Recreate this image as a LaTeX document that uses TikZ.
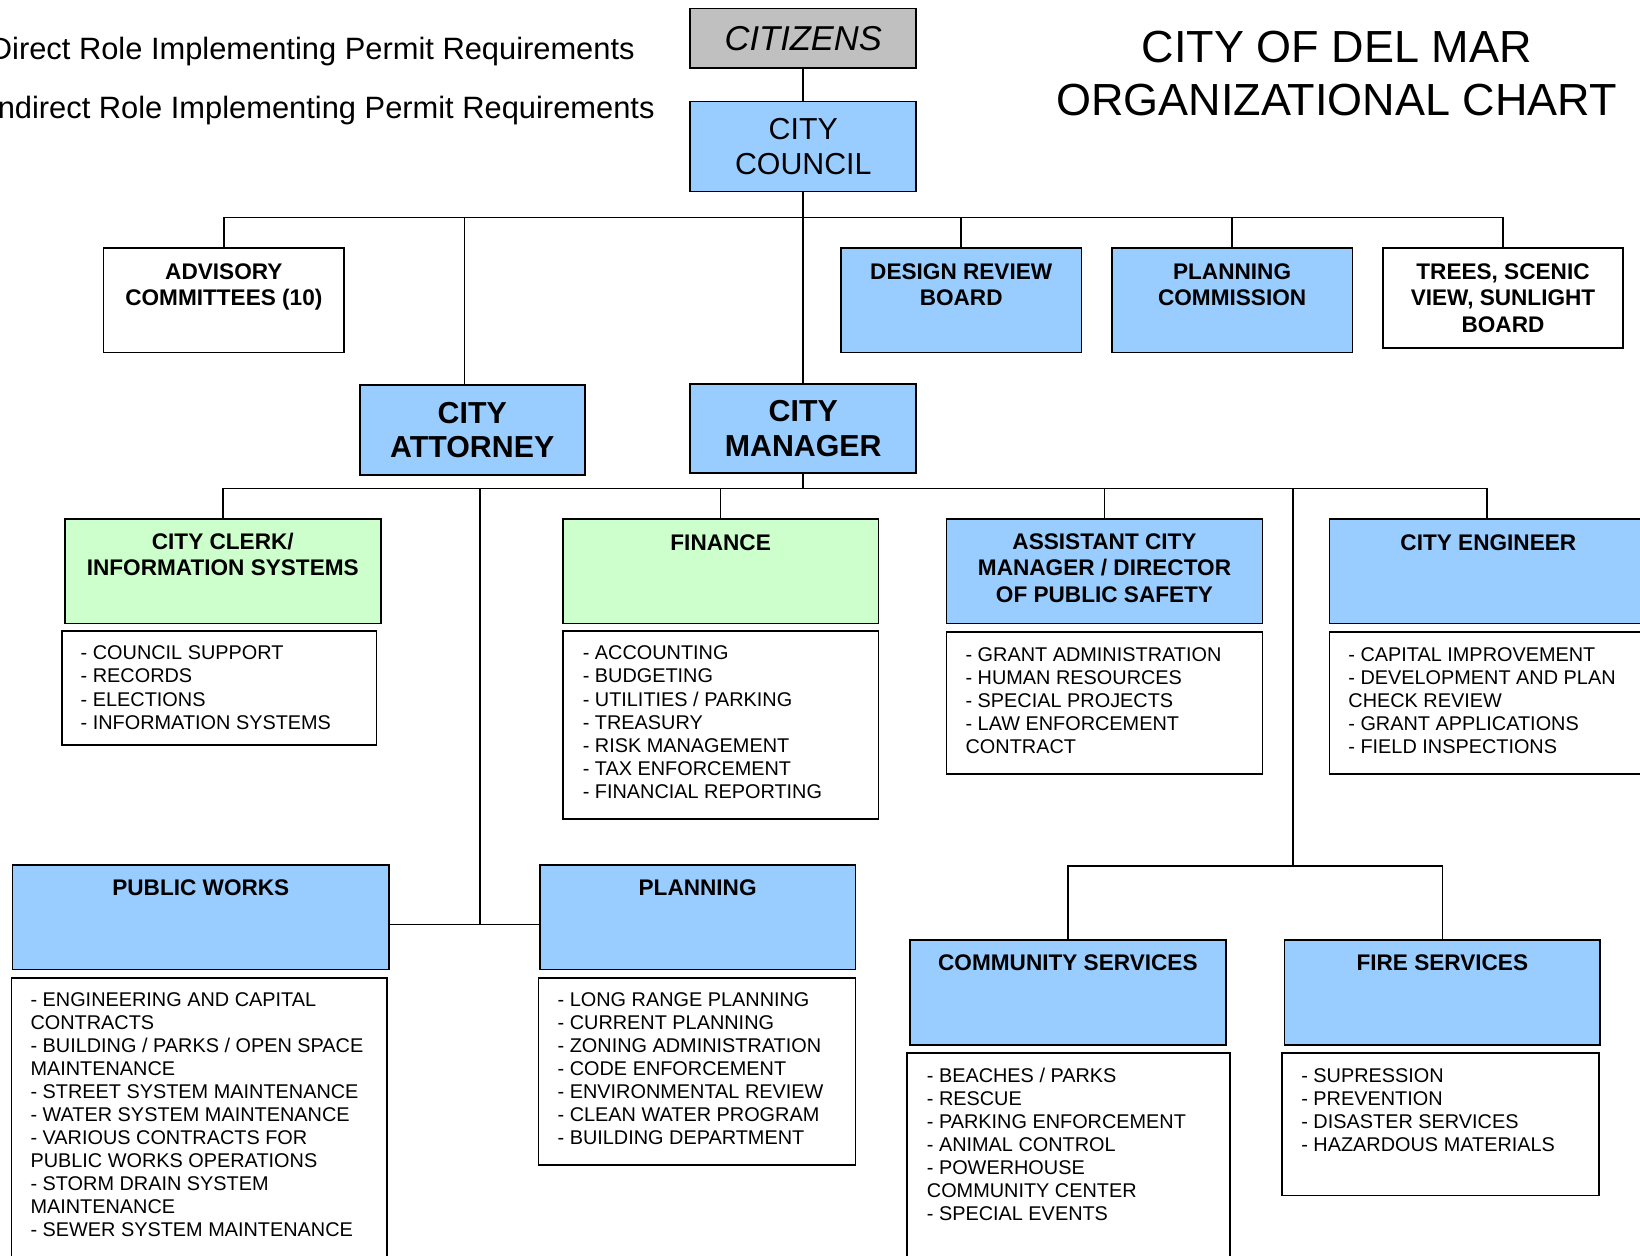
\documentclass[tikz,border=0pt]{standalone}
\usepackage{fontspec}
\setmainfont{Liberation Sans}

\definecolor{deptblue}{HTML}{99CCFF}
\definecolor{deptgreen}{HTML}{CCFFCC}
\definecolor{citgray}{HTML}{C0C0C0}

\tikzset{
  unit/.style={draw=black, line width=1.6pt, inner sep=0pt},
  bluebox/.style={unit, fill=deptblue},
  greenbox/.style={unit, fill=deptgreen},
  whitebox/.style={unit, fill=white},
  hd/.style={font=\bfseries\fontsize{21.6}{25.5}\selectfont, align=center, anchor=base, inner sep=0pt},
  items/.style={font=\fontsize{19}{22}\selectfont, align=left, anchor=base west, inner sep=0pt},
  link/.style={line width=1.6pt}
}

\begin{document}
\begin{tikzpicture}[x=1pt, y=-1pt]
\useasboundingbox (0,0) rectangle (1568,1200);
\clip (0,0) rectangle (1568,1200);

% legend and title (nodes sit on the baseline of their last line)
\node[font=\fontsize{29.5}{33}\selectfont, anchor=base east, inner sep=0pt] (direct) at (607,57) {Direct Role Implementing Permit Requirements};
\node[font=\fontsize{29.5}{33}\selectfont, anchor=base east, inner sep=0pt] (indirect) at (626,113) {Indirect Role Implementing Permit Requirements};
\node[font=\fontsize{43}{50}\selectfont, align=center, anchor=base, inner sep=0pt] (title) at (1278,110) {CITY OF DEL MAR\\ORGANIZATIONAL CHART};

% top of the chart
\node[unit, fill=citgray, minimum width=216pt, minimum height=57pt, font=\itshape\fontsize{33}{36}\selectfont] (citizens) at (768,36.5) {CITIZENS};
\node[bluebox, minimum width=216pt, minimum height=86pt, align=center, font=\fontsize{29}{33}\selectfont] (council) at (768,140) {CITY\\COUNCIL};

\node[whitebox, minimum width=230pt, minimum height=100pt] (advisory) at (214,287) {};
\node[hd] at (214,292.5) {ADVISORY\\COMMITTEES (10)};
\node[bluebox, minimum width=230pt, minimum height=100pt] (design) at (919,287) {};
\node[hd] at (919,292.5) {DESIGN REVIEW\\BOARD};
\node[bluebox, minimum width=230pt, minimum height=100pt] (plancomm) at (1178,287) {};
\node[hd] at (1178,292.5) {PLANNING\\COMMISSION};
\node[whitebox, minimum width=230pt, minimum height=96pt] (trees) at (1437,285) {};
\node[hd] at (1437,318) {TREES, SCENIC\\VIEW, SUNLIGHT\\BOARD};

\node[bluebox, minimum width=215pt, minimum height=86pt, align=center, font=\bfseries\fontsize{29}{33}\selectfont] (attorney) at (451.5,411) {CITY\\ATTORNEY};
\node[bluebox, minimum width=216pt, minimum height=85pt, align=center, font=\bfseries\fontsize{29}{33}\selectfont] (manager) at (768,409.5) {CITY\\MANAGER};

% departments
\node[greenbox, minimum width=302pt, minimum height=100pt] (clerk) at (213,546) {};
\node[hd] at (213,550.5) {CITY CLERK/\\INFORMATION SYSTEMS};
\node[whitebox, minimum width=301pt, minimum height=109pt] (clerklist) at (209.5,657.5) {};
\node[items] at (77,697) {- COUNCIL SUPPORT\\- RECORDS\\- ELECTIONS\\- INFORMATION SYSTEMS};

\node[greenbox, minimum width=302pt, minimum height=100pt] (finance) at (689,546) {};
\node[hd] at (689,526) {FINANCE};
\node[whitebox, minimum width=302pt, minimum height=180pt] (financelist) at (689,693) {};
\node[items] at (557,763) {- ACCOUNTING\\- BUDGETING\\- UTILITIES / PARKING\\- TREASURY\\- RISK MANAGEMENT\\- TAX ENFORCEMENT\\- FINANCIAL REPORTING};

\node[bluebox, minimum width=302pt, minimum height=100pt] (asst) at (1056,546) {};
\node[hd] at (1056,576) {ASSISTANT CITY\\MANAGER / DIRECTOR\\OF PUBLIC SAFETY};
\node[whitebox, minimum width=302pt, minimum height=136pt] (asstlist) at (1056,672) {};
\node[items] at (923,720) {- GRANT ADMINISTRATION\\- HUMAN RESOURCES\\- SPECIAL PROJECTS\\- LAW ENFORCEMENT\\CONTRACT};

\node[bluebox, minimum width=302pt, minimum height=100pt] (engineer) at (1422,546) {};
\node[hd] at (1423,526) {CITY ENGINEER};
\node[whitebox, minimum width=302pt, minimum height=136pt] (engineerlist) at (1422,672) {};
\node[items] at (1289,720) {- CAPITAL IMPROVEMENT\\- DEVELOPMENT AND PLAN\\CHECK REVIEW\\- GRANT APPLICATIONS\\- FIELD INSPECTIONS};

\node[bluebox, minimum width=360pt, minimum height=100pt] (pubworks) at (192,877) {};
\node[hd] at (192,856) {PUBLIC WORKS};
\node[whitebox, minimum width=359pt, minimum height=290pt] (pubworkslist) at (190.5,1080) {};
\node[items] at (29,1182) {- ENGINEERING AND CAPITAL\\CONTRACTS\\- BUILDING / PARKS / OPEN SPACE\\MAINTENANCE\\- STREET SYSTEM MAINTENANCE\\- WATER SYSTEM MAINTENANCE\\- VARIOUS CONTRACTS FOR\\PUBLIC WORKS OPERATIONS\\- STORM DRAIN SYSTEM\\MAINTENANCE\\- SEWER SYSTEM MAINTENANCE};

\node[bluebox, minimum width=302pt, minimum height=100pt] (planning) at (667,877) {};
\node[hd] at (667,856) {PLANNING};
\node[whitebox, minimum width=303pt, minimum height=179pt] (planninglist) at (666.5,1024.5) {};
\node[items] at (533,1094) {- LONG RANGE PLANNING\\- CURRENT PLANNING\\- ZONING ADMINISTRATION\\- CODE ENFORCEMENT\\- ENVIRONMENTAL REVIEW\\- CLEAN WATER PROGRAM\\- BUILDING DEPARTMENT};

\node[bluebox, minimum width=302pt, minimum height=100pt] (community) at (1021,949) {};
\node[hd] at (1021,928) {COMMUNITY SERVICES};
\node[whitebox, minimum width=309pt, minimum height=220pt] (communitylist) at (1021.5,1117) {};
\node[items] at (886,1167) {- BEACHES / PARKS\\- RESCUE\\- PARKING ENFORCEMENT\\- ANIMAL CONTROL\\- POWERHOUSE\\COMMUNITY CENTER\\- SPECIAL EVENTS};

\node[bluebox, minimum width=302pt, minimum height=100pt] (fire) at (1379,949) {};
\node[hd] at (1379,928) {FIRE SERVICES};
\node[whitebox, minimum width=303pt, minimum height=136pt] (firelist) at (1377.5,1075) {};
\node[items] at (1244,1101) {- SUPRESSION\\- PREVENTION\\- DISASTER SERVICES\\- HAZARDOUS MATERIALS};

% connectors
\coordinate (bus1) at (768,208);
\coordinate (bus2) at (768,467);
\coordinate (attdrop) at (444,208);
\coordinate (pwjoin) at (459,884);
\coordinate (csjoin) at (1236,828);

\draw[link] (citizens.south) -- (council.north);
\draw[link] (council.south) -- (manager.north);
\draw[link] (advisory.north) |- (bus1) -| (trees.north);
\draw[link] (attdrop) -- (attdrop |- attorney.north);
\draw[link] (design.north) |- (bus1);
\draw[link] (plancomm.north) |- (bus1);

\draw[link] (manager.south) -- (bus2);
\draw[link] (clerk.north) |- (bus2) -| (engineer.north);
\draw[link] (finance.north) |- (bus2);
\draw[link] (asst.north) |- (bus2);

\draw[link] (pwjoin |- bus2) -- (pwjoin);
\draw[link] (pubworks.east |- pwjoin) -- (planning.west |- pwjoin);
\draw[link] (csjoin |- bus2) -- (csjoin);
\draw[link] (community.north) |- (csjoin) -| (fire.north);
\end{tikzpicture}
\end{document}
